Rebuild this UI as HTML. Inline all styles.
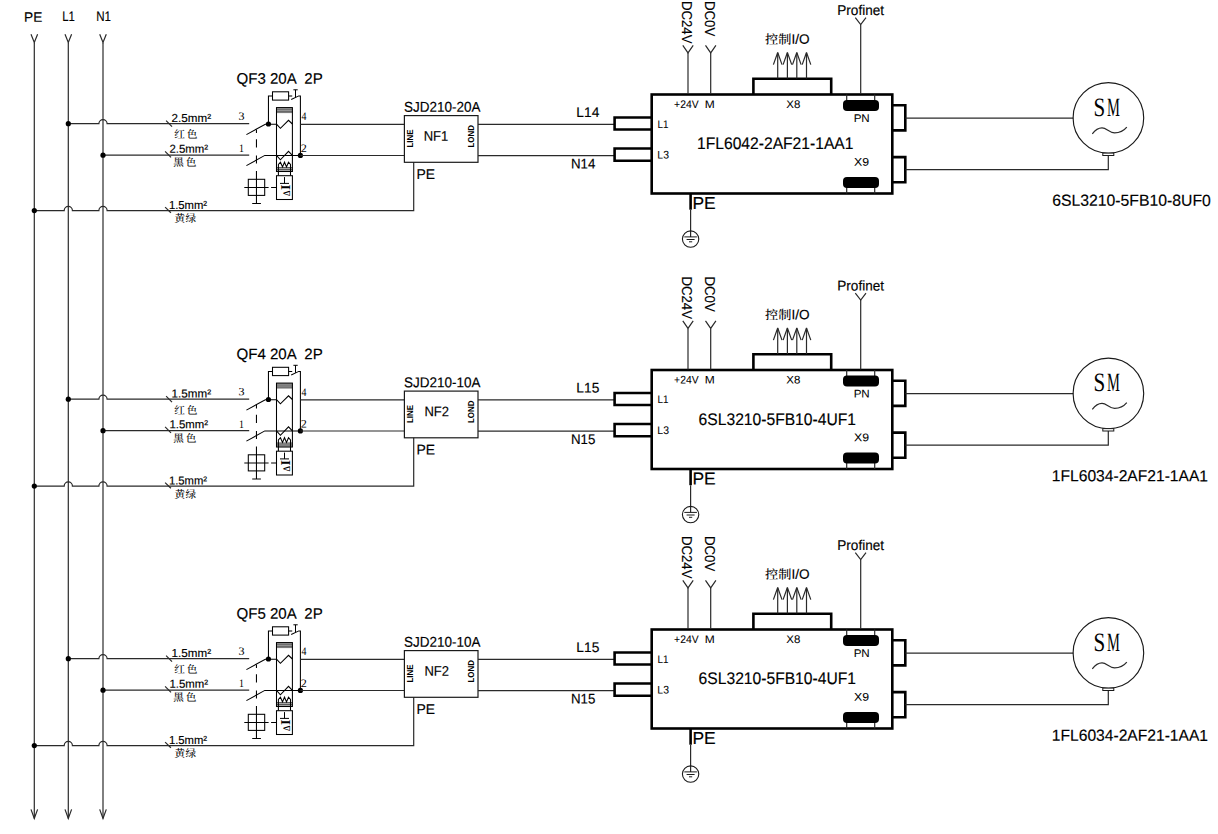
<!DOCTYPE html>
<html lang="zh-CN">
<head>
<meta charset="utf-8">
<title>Wiring diagram</title>
<style>
html,body{margin:0;padding:0;background:#fff;}
body{width:1218px;height:834px;overflow:hidden;}
svg{display:block;}
text{white-space:pre;text-rendering:geometricPrecision;stroke:#000;stroke-width:0.16px;stroke-linejoin:round;}
</style>
</head>
<body>
<svg width="1218" height="834" viewBox="0 0 1218 834">
<rect x="0" y="0" width="1218" height="834" fill="#fff"/>
<path d="M34.3,42.5 V818.4" stroke="#2a2a2a" stroke-width="1.2" fill="none"/>
<path d="M30.999999999999996,34.3 L34.3,42.5 L37.599999999999994,34.3" stroke="#2a2a2a" stroke-width="1.2" fill="none"/>
<path d="M30.999999999999996,809.4 L34.3,818.4 L37.599999999999994,809.4" stroke="#2a2a2a" stroke-width="1.2" fill="none"/>
<path d="M68.3,42.5 V818.4" stroke="#2a2a2a" stroke-width="1.2" fill="none"/>
<path d="M65.0,34.3 L68.3,42.5 L71.6,34.3" stroke="#2a2a2a" stroke-width="1.2" fill="none"/>
<path d="M65.0,809.4 L68.3,818.4 L71.6,809.4" stroke="#2a2a2a" stroke-width="1.2" fill="none"/>
<path d="M103.0,42.5 V818.4" stroke="#2a2a2a" stroke-width="1.2" fill="none"/>
<path d="M99.7,34.3 L103.0,42.5 L106.3,34.3" stroke="#2a2a2a" stroke-width="1.2" fill="none"/>
<path d="M99.7,809.4 L103.0,818.4 L106.3,809.4" stroke="#2a2a2a" stroke-width="1.2" fill="none"/>
<text transform="translate(24.08 21.80) rotate(0.03) scale(0.9989 1)" font-family='"Liberation Sans", "Noto Sans CJK SC", sans-serif' font-size="13.66" fill="#000"  xml:space="preserve">PE</text>
<text transform="translate(62.26 21.30) rotate(0.03) scale(0.8352 1)" font-family='"Liberation Sans", "Noto Sans CJK SC", sans-serif' font-size="13.66" fill="#000"  xml:space="preserve">L1</text>
<text transform="translate(96.25 21.30) rotate(0.03) scale(0.8483 1)" font-family='"Liberation Sans", "Noto Sans CJK SC", sans-serif' font-size="13.66" fill="#000"  xml:space="preserve">N1</text>
<g transform="translate(0 0)">
<path d="M68.3,123.7 H98.90 A4.1,4.1 0 0 1 107.10,123.7 H249.2" stroke="#2a2a2a" stroke-width="1.2" fill="none"/>
<path d="M103.0,155.2 H249.2" stroke="#2a2a2a" stroke-width="1.2" fill="none"/>
<path d="M34.3,210.55 H64.20 A4.1,4.1 0 0 1 72.40,210.55 H98.90 A4.1,4.1 0 0 1 107.10,210.55 H413.7 V162.3" stroke="#2a2a2a" stroke-width="1.2" fill="none"/>
<circle cx="68.30" cy="123.70" r="2.6" fill="#000"/>
<circle cx="103.00" cy="155.20" r="2.6" fill="#000"/>
<circle cx="34.30" cy="210.55" r="2.6" fill="#000"/>
<path d="M166.1,120.7 L172,126.7" stroke="#2a2a2a" stroke-width="1.2" fill="none"/>
<path d="M165.1,151.4 L171,157.4" stroke="#2a2a2a" stroke-width="1.2" fill="none"/>
<path d="M165.1,207.1 L170.9,212.7" stroke="#2a2a2a" stroke-width="1.2" fill="none"/>
<text transform="translate(171.62 121.90) rotate(0.03) scale(0.9999 1)" font-family='"Liberation Sans", "Noto Sans CJK SC", sans-serif' font-size="11.63" fill="#000"  xml:space="preserve">2.5mm²</text>
<text transform="translate(169.53 152.80) rotate(0.03) scale(0.9792 1)" font-family='"Liberation Sans", "Noto Sans CJK SC", sans-serif' font-size="11.63" fill="#000"  xml:space="preserve">2.5mm²</text>
<text transform="translate(168.94 209.00) rotate(0.03) scale(0.9686 1)" font-family='"Liberation Sans", "Noto Sans CJK SC", sans-serif' font-size="11.63" fill="#000"  xml:space="preserve">1.5mm²</text>
<text x="174.20" y="138.00" font-family='"Liberation Serif", "Noto Serif CJK SC", serif' font-size="10.6" fill="#000" textLength="23.20" lengthAdjust="spacing" font-weight="500" style="stroke:none">红色</text>
<text x="173.20" y="166.20" font-family='"Liberation Serif", "Noto Serif CJK SC", serif' font-size="10.6" fill="#000" textLength="23.20" lengthAdjust="spacing" font-weight="500" style="stroke:none">黑色</text>
<text x="174.60" y="222.20" font-family='"Liberation Serif", "Noto Serif CJK SC", serif' font-size="10.6" fill="#000" textLength="21.60" lengthAdjust="spacing" font-weight="500" style="stroke:none">黄绿</text>
<text transform="translate(238.52 119.80) rotate(0.03) scale(1.0860 1)" font-family='"Liberation Serif", "Noto Serif CJK SC", serif' font-size="11.15" fill="#000" style="stroke:none" xml:space="preserve">3</text>
<text transform="translate(239.03 152.00) rotate(0.03) scale(0.8682 1)" font-family='"Liberation Serif", "Noto Serif CJK SC", serif' font-size="11.45" fill="#000" style="stroke:none" xml:space="preserve">1</text>
<text transform="translate(301.41 120.10) rotate(0.03) scale(0.8642 1)" font-family='"Liberation Serif", "Noto Serif CJK SC", serif' font-size="11.45" fill="#000" style="stroke:none" xml:space="preserve">4</text>
<text transform="translate(300.76 152.00) rotate(0.03) scale(1.0675 1)" font-family='"Liberation Serif", "Noto Serif CJK SC", serif' font-size="11.45" fill="#000" style="stroke:none" xml:space="preserve">2</text>
<text transform="translate(236.49 83.70) rotate(0.03) scale(0.9874 1)" font-family='"Liberation Sans", "Noto Sans CJK SC", sans-serif' font-size="15.26" fill="#000"  xml:space="preserve">QF3 20A  2P</text>
<path d="M246.4,134.6 L265.3,124.2 H276.5" stroke="#000" stroke-width="1.05" fill="none"/>
<path d="M246.4,165.6 L264.8,155.4 H300.4" stroke="#000" stroke-width="1.05" fill="none"/>
<circle cx="268.45" cy="124.00" r="2.6" fill="#000"/>
<circle cx="300.40" cy="155.40" r="2.6" fill="#000"/>
<path d="M268.45,124 V96 H272.5" stroke="#000" stroke-width="1.05" fill="none"/>
<rect x="272.5" y="91.8" width="16.1" height="8.3" stroke="#000" stroke-width="1.05" fill="none"/>
<path d="M288.6,96 H292.2" stroke="#000" stroke-width="1.05" fill="none"/>
<path d="M291.2,99.5 L298.8,95.9 H300.4 V155.4" stroke="#000" stroke-width="1.05" fill="none"/>
<path d="M295.5,97.4 V89.8 M293.4,89.8 H297.7" stroke="#000" stroke-width="1" fill="none"/>
<rect x="276.5" y="107.6" width="15.9" height="5.0" fill="#9a9a9a"/>
<path d="M276.5,109.6 H292.4 M276.5,111.5 H292.4 M276.5,112.6 H292.4" stroke="#555" stroke-width="0.7" fill="none"/>
<rect x="276.5" y="167.2" width="15.9" height="4.3" fill="#a8a8a8"/>
<path d="M276.5,167.5 H292.4 M276.5,169.5 H292.4" stroke="#444" stroke-width="0.8" fill="none"/>
<rect x="276.5" y="107.6" width="15.9" height="63.9" stroke="#000" stroke-width="1.05" fill="none"/>
<path d="M276.5,124.2 L280.4,128.3 L288.5,120.3 L292.4,124.0" stroke="#000" stroke-width="1.05" fill="none"/>
<path d="M276.5,155.4 L280.4,159.8 L288.5,151.3 L292.4,155.4" stroke="#000" stroke-width="1.05" fill="none"/>
<path d="M278.4,175.6 V164.4 L280.45,162.2 L282.5,166.9 L284.5,162.2 L286.5,166.9 L288.5,162.2 L290.5,164.4 V175.6" stroke="#000" stroke-width="1.05" fill="none"/>
<rect x="276.5" y="175.7" width="15.9" height="23.8" stroke="#000" stroke-width="1.05" fill="none"/>
<path d="M284.5,177.1 V183.4 M280,183.4 H289" stroke="#000" stroke-width="1" fill="none"/>
<text transform="translate(289.9 200) rotate(-89.97)" font-family='"Liberation Serif", "Noto Serif CJK SC", serif' font-weight="bold" fill="#000" style="stroke:none"><tspan x="4.19" font-size="10.08" textLength="5.15" lengthAdjust="spacingAndGlyphs">Δ</tspan><tspan dx="0.59" font-size="13.44" textLength="5.44" lengthAdjust="spacingAndGlyphs">I</tspan></text>
<path d="M256.45,129.5 V133 M256.45,139.2 V147.5 M256.45,155.5 V163.5 M256.45,171 V203.4 M252.2,203.4 H260.9" stroke="#000" stroke-width="1.05" fill="none"/>
<rect x="248.3" y="179.3" width="16.4" height="16.1" stroke="#000" stroke-width="1.05" fill="none"/>
<path d="M244.3,187.4 H268.6 M271.1,187.4 H276.5" stroke="#000" stroke-width="1.05" fill="none"/>
<path d="M300.4,124.35 H404.4" stroke="#2a2a2a" stroke-width="1.2" fill="none"/>
<path d="M300.4,155.5 H404.4" stroke="#2a2a2a" stroke-width="1.2" fill="none"/>
<rect x="404.4" y="115.6" width="73.6" height="46.7" stroke="#1a1a1a" stroke-width="1.2" fill="none"/>
<text transform="translate(403.99 111.70) rotate(0.03) scale(0.9477 1)" font-family='"Liberation Sans", "Noto Sans CJK SC", sans-serif' font-size="14.24" fill="#000"  xml:space="preserve">SJD210-20A</text>
<text transform="translate(423.73 140.85) rotate(0.03) scale(0.9334 1)" font-family='"Liberation Sans", "Noto Sans CJK SC", sans-serif' font-size="13.95" fill="#000"  xml:space="preserve">NF1</text>
<text transform="translate(413.20 147.00) rotate(-89.97) translate(-0.53 0) scale(0.9028 1)" font-family='"Liberation Sans", "Noto Sans CJK SC", sans-serif' font-size="8.72" fill="#000" font-weight="bold" style="stroke:none" xml:space="preserve">LINE</text>
<text transform="translate(474.00 147.00) rotate(-89.97) translate(-0.53 0) scale(0.9050 1)" font-family='"Liberation Sans", "Noto Sans CJK SC", sans-serif' font-size="8.72" fill="#000" font-weight="bold" style="stroke:none" xml:space="preserve">LOND</text>
<text transform="translate(416.56 179.00) rotate(0.03) scale(0.9856 1)" font-family='"Liberation Sans", "Noto Sans CJK SC", sans-serif' font-size="14.10" fill="#000"  xml:space="preserve">PE</text>
<path d="M478,124.3 H614.6" stroke="#2a2a2a" stroke-width="1.2" fill="none"/>
<path d="M478,155.6 H614.6" stroke="#2a2a2a" stroke-width="1.2" fill="none"/>
<text transform="translate(576.37 117.00) rotate(0.03) scale(0.9849 1)" font-family='"Liberation Sans", "Noto Sans CJK SC", sans-serif' font-size="13.95" fill="#000"  xml:space="preserve">L14</text>
<text transform="translate(570.91 168.60) rotate(0.03) scale(0.9524 1)" font-family='"Liberation Sans", "Noto Sans CJK SC", sans-serif' font-size="13.95" fill="#000"  xml:space="preserve">N14</text>
<rect x="651.7" y="94.5" width="240.6" height="99.0" stroke="#000" stroke-width="2.6" fill="none" stroke-linejoin="miter"/>
<path d="M651.7,117.5 H614.6 V129.5 H651.7" stroke="#000" stroke-width="2.6" fill="none" stroke-linejoin="miter"/>
<path d="M651.7,148.5 H614.6 V160.7 H651.7" stroke="#000" stroke-width="2.6" fill="none" stroke-linejoin="miter"/>
<path d="M753.4,94.5 V78.7 H831.2 V94.5" stroke="#000" stroke-width="2.6" fill="none" stroke-linejoin="miter"/>
<path d="M892.3,105.2 H905.3 V130.4 H892.3" stroke="#000" stroke-width="2.6" fill="none" stroke-linejoin="miter"/>
<path d="M892.3,157.1 H905.3 V182.3 H892.3" stroke="#000" stroke-width="2.6" fill="none" stroke-linejoin="miter"/>
<path d="M846.7,94.5 V101 M874.7,94.5 V101 M846.7,187 V193.5 M874.7,187 V193.5" stroke="#2a2a2a" stroke-width="1.2" fill="none"/>
<rect x="843" y="100" width="36" height="11" rx="4" ry="4" fill="#000"/>
<rect x="843" y="177.1" width="36" height="10.9" rx="4" ry="4" fill="#000"/>
<path d="M688.0,52.9 V94" stroke="#2a2a2a" stroke-width="1.2" fill="none"/>
<path d="M682.8,45.3 L688.0,52.9 L693.2,45.3" stroke="#2a2a2a" stroke-width="1.2" fill="none"/>
<path d="M710.7,52.9 V94" stroke="#2a2a2a" stroke-width="1.2" fill="none"/>
<path d="M705.5,45.3 L710.7,52.9 L715.9000000000001,45.3" stroke="#2a2a2a" stroke-width="1.2" fill="none"/>
<text transform="translate(682.10 0.00) rotate(90.03) translate(0.92 0) scale(0.9264 1)" font-family='"Liberation Sans", "Noto Sans CJK SC", sans-serif' font-size="14.24" fill="#000"  xml:space="preserve">DC24V</text>
<text transform="translate(704.80 0.00) rotate(90.03) translate(0.91 0) scale(0.9302 1)" font-family='"Liberation Sans", "Noto Sans CJK SC", sans-serif' font-size="14.24" fill="#000"  xml:space="preserve">DC0V</text>
<path d="M777.7,52.8 V78.5" stroke="#2a2a2a" stroke-width="1.2" fill="none"/>
<path d="M773.4000000000001,64.6 L777.7,52.5 L782.0,64.6" stroke="#2a2a2a" stroke-width="1.2" fill="none" stroke-linejoin="bevel"/>
<path d="M787.4,52.8 V78.5" stroke="#2a2a2a" stroke-width="1.2" fill="none"/>
<path d="M783.1,64.6 L787.4,52.5 L791.6999999999999,64.6" stroke="#2a2a2a" stroke-width="1.2" fill="none" stroke-linejoin="bevel"/>
<path d="M796.8,52.8 V78.5" stroke="#2a2a2a" stroke-width="1.2" fill="none"/>
<path d="M792.5,64.6 L796.8,52.5 L801.0999999999999,64.6" stroke="#2a2a2a" stroke-width="1.2" fill="none" stroke-linejoin="bevel"/>
<path d="M806.5,52.8 V78.5" stroke="#2a2a2a" stroke-width="1.2" fill="none"/>
<path d="M802.2,64.6 L806.5,52.5 L810.8,64.6" stroke="#2a2a2a" stroke-width="1.2" fill="none" stroke-linejoin="bevel"/>
<text transform="translate(765.0 43.8) rotate(0.03)" font-size="12.6" fill="#000"><tspan font-family='"Liberation Serif", "Noto Serif CJK SC", serif' font-weight="500" textLength="26.4" lengthAdjust="spacingAndGlyphs" style="stroke:none">控制</tspan><tspan font-family='"Liberation Sans", "Noto Sans CJK SC", sans-serif' font-size="13.6">I/O</tspan></text>
<path d="M860.7,24.5 V94" stroke="#2a2a2a" stroke-width="1.2" fill="none"/>
<path d="M855.3,17.6 L860.7,24.5 L866,17.6" stroke="#2a2a2a" stroke-width="1.2" fill="none"/>
<text transform="translate(837.29 14.90) rotate(0.03) scale(0.9614 1)" font-family='"Liberation Sans", "Noto Sans CJK SC", sans-serif' font-size="14.10" fill="#000"  xml:space="preserve">Profinet</text>
<text transform="translate(674.09 107.90) rotate(0.03) scale(0.9405 1)" font-family='"Liberation Sans", "Noto Sans CJK SC", sans-serif' font-size="11.05" fill="#000" style="stroke-width:0.06px" xml:space="preserve">+24V</text>
<text transform="translate(704.72 107.90) rotate(0.03) scale(1.0826 1)" font-family='"Liberation Sans", "Noto Sans CJK SC", sans-serif' font-size="11.05" fill="#000" style="stroke-width:0.06px" xml:space="preserve">M</text>
<text transform="translate(786.24 107.90) rotate(0.03) scale(1.0404 1)" font-family='"Liberation Sans", "Noto Sans CJK SC", sans-serif' font-size="11.05" fill="#000" style="stroke-width:0.06px" xml:space="preserve">X8</text>
<text transform="translate(657.39 127.90) rotate(0.03) scale(0.8947 1)" font-family='"Liberation Sans", "Noto Sans CJK SC", sans-serif' font-size="11.05" fill="#000" style="stroke-width:0.06px" xml:space="preserve">L1</text>
<text transform="translate(657.34 158.50) rotate(0.03) scale(0.9453 1)" font-family='"Liberation Sans", "Noto Sans CJK SC", sans-serif' font-size="11.05" fill="#000" style="stroke-width:0.06px" xml:space="preserve">L3</text>
<text transform="translate(853.65 121.90) rotate(0.03) scale(1.0352 1)" font-family='"Liberation Sans", "Noto Sans CJK SC", sans-serif' font-size="11.19" fill="#000" style="stroke-width:0.06px" xml:space="preserve">PN</text>
<text transform="translate(854.02 165.80) rotate(0.03) scale(1.1001 1)" font-family='"Liberation Sans", "Noto Sans CJK SC", sans-serif' font-size="11.19" fill="#000" style="stroke-width:0.06px" xml:space="preserve">X9</text>
<text transform="translate(697.01 149.00) rotate(0.03) scale(0.9273 1)" font-family='"Liberation Sans", "Noto Sans CJK SC", sans-serif' font-size="16.86" fill="#000"  xml:space="preserve">1FL6042-2AF21-1AA1</text>
<path d="M690.6,193.5 V209.7" stroke="#000" stroke-width="2.6" fill="none" stroke-linejoin="miter"/>
<path d="M690.6,209.7 V237" stroke="#2a2a2a" stroke-width="1.2" fill="none"/>
<circle cx="690.6" cy="239.1" r="8.2" stroke="#1a1a1a" stroke-width="1.1" fill="none"/>
<path d="M684.3,236.9 H696.9 M686.6,239.5 H694.6 M689,241.8 H692.2" stroke="#1a1a1a" stroke-width="1" fill="none"/>
<text transform="translate(692.47 209.00) rotate(0.03) scale(1.0090 1)" font-family='"Liberation Sans", "Noto Sans CJK SC", sans-serif' font-size="17.30" fill="#000"  xml:space="preserve">PE</text>
<path d="M905.4,118.2 H1073.4" stroke="#2a2a2a" stroke-width="1.2" fill="none"/>
<path d="M905.4,169.6 H1108.3 V155.5" stroke="#2a2a2a" stroke-width="1.2" fill="none"/>
<circle cx="1108.4" cy="117.9" r="35.3" stroke="#1a1a1a" stroke-width="1.15" fill="none"/>
<rect x="1102.8" y="153.1" width="11.0" height="2.4" stroke="#1a1a1a" stroke-width="1" fill="#fff"/>
<text transform="translate(1093.5 115.8) rotate(0.03)" font-family='"Liberation Serif", "Noto Serif CJK SC", serif' font-size="26.5" fill="#000" style="stroke:none"><tspan textLength="11.7" lengthAdjust="spacingAndGlyphs">S</tspan><tspan dx="1.7" textLength="12.9" lengthAdjust="spacingAndGlyphs">M</tspan></text>
<path d="M1092.3,133.8 C1095.5,129.5 1098.5,127.8 1102,127.8 C1106.5,127.8 1109.5,132.8 1114.6,132.8 C1119.5,132.8 1124,130.5 1126.8,127.1" stroke="#2a2a2a" stroke-width="1.2" fill="none"/>
<text transform="translate(1052.20 205.80) rotate(0.03) scale(0.9866 1)" font-family='"Liberation Sans", "Noto Sans CJK SC", sans-serif' font-size="15.99" fill="#000"  xml:space="preserve">6SL3210-5FB10-8UF0</text>
</g>
<g transform="translate(0 275.5)">
<path d="M68.3,123.7 H98.90 A4.1,4.1 0 0 1 107.10,123.7 H249.2" stroke="#2a2a2a" stroke-width="1.2" fill="none"/>
<path d="M103.0,155.2 H249.2" stroke="#2a2a2a" stroke-width="1.2" fill="none"/>
<path d="M34.3,210.55 H64.20 A4.1,4.1 0 0 1 72.40,210.55 H98.90 A4.1,4.1 0 0 1 107.10,210.55 H413.7 V162.3" stroke="#2a2a2a" stroke-width="1.2" fill="none"/>
<circle cx="68.30" cy="123.70" r="2.6" fill="#000"/>
<circle cx="103.00" cy="155.20" r="2.6" fill="#000"/>
<circle cx="34.30" cy="210.55" r="2.6" fill="#000"/>
<path d="M166.1,120.7 L172,126.7" stroke="#2a2a2a" stroke-width="1.2" fill="none"/>
<path d="M165.1,151.4 L171,157.4" stroke="#2a2a2a" stroke-width="1.2" fill="none"/>
<path d="M165.1,207.1 L170.9,212.7" stroke="#2a2a2a" stroke-width="1.2" fill="none"/>
<text transform="translate(171.62 121.90) rotate(0.03) scale(0.9999 1)" font-family='"Liberation Sans", "Noto Sans CJK SC", sans-serif' font-size="11.63" fill="#000"  xml:space="preserve">1.5mm²</text>
<text transform="translate(169.53 152.80) rotate(0.03) scale(0.9792 1)" font-family='"Liberation Sans", "Noto Sans CJK SC", sans-serif' font-size="11.63" fill="#000"  xml:space="preserve">1.5mm²</text>
<text transform="translate(168.94 209.00) rotate(0.03) scale(0.9686 1)" font-family='"Liberation Sans", "Noto Sans CJK SC", sans-serif' font-size="11.63" fill="#000"  xml:space="preserve">1.5mm²</text>
<text x="174.20" y="138.00" font-family='"Liberation Serif", "Noto Serif CJK SC", serif' font-size="10.6" fill="#000" textLength="23.20" lengthAdjust="spacing" font-weight="500" style="stroke:none">红色</text>
<text x="173.20" y="166.20" font-family='"Liberation Serif", "Noto Serif CJK SC", serif' font-size="10.6" fill="#000" textLength="23.20" lengthAdjust="spacing" font-weight="500" style="stroke:none">黑色</text>
<text x="174.60" y="222.20" font-family='"Liberation Serif", "Noto Serif CJK SC", serif' font-size="10.6" fill="#000" textLength="21.60" lengthAdjust="spacing" font-weight="500" style="stroke:none">黄绿</text>
<text transform="translate(238.52 119.80) rotate(0.03) scale(1.0860 1)" font-family='"Liberation Serif", "Noto Serif CJK SC", serif' font-size="11.15" fill="#000" style="stroke:none" xml:space="preserve">3</text>
<text transform="translate(239.03 152.00) rotate(0.03) scale(0.8682 1)" font-family='"Liberation Serif", "Noto Serif CJK SC", serif' font-size="11.45" fill="#000" style="stroke:none" xml:space="preserve">1</text>
<text transform="translate(301.41 120.10) rotate(0.03) scale(0.8642 1)" font-family='"Liberation Serif", "Noto Serif CJK SC", serif' font-size="11.45" fill="#000" style="stroke:none" xml:space="preserve">4</text>
<text transform="translate(300.76 152.00) rotate(0.03) scale(1.0675 1)" font-family='"Liberation Serif", "Noto Serif CJK SC", serif' font-size="11.45" fill="#000" style="stroke:none" xml:space="preserve">2</text>
<text transform="translate(236.49 83.70) rotate(0.03) scale(0.9874 1)" font-family='"Liberation Sans", "Noto Sans CJK SC", sans-serif' font-size="15.26" fill="#000"  xml:space="preserve">QF4 20A  2P</text>
<path d="M246.4,134.6 L265.3,124.2 H276.5" stroke="#000" stroke-width="1.05" fill="none"/>
<path d="M246.4,165.6 L264.8,155.4 H300.4" stroke="#000" stroke-width="1.05" fill="none"/>
<circle cx="268.45" cy="124.00" r="2.6" fill="#000"/>
<circle cx="300.40" cy="155.40" r="2.6" fill="#000"/>
<path d="M268.45,124 V96 H272.5" stroke="#000" stroke-width="1.05" fill="none"/>
<rect x="272.5" y="91.8" width="16.1" height="8.3" stroke="#000" stroke-width="1.05" fill="none"/>
<path d="M288.6,96 H292.2" stroke="#000" stroke-width="1.05" fill="none"/>
<path d="M291.2,99.5 L298.8,95.9 H300.4 V155.4" stroke="#000" stroke-width="1.05" fill="none"/>
<path d="M295.5,97.4 V89.8 M293.4,89.8 H297.7" stroke="#000" stroke-width="1" fill="none"/>
<rect x="276.5" y="107.6" width="15.9" height="5.0" fill="#9a9a9a"/>
<path d="M276.5,109.6 H292.4 M276.5,111.5 H292.4 M276.5,112.6 H292.4" stroke="#555" stroke-width="0.7" fill="none"/>
<rect x="276.5" y="167.2" width="15.9" height="4.3" fill="#a8a8a8"/>
<path d="M276.5,167.5 H292.4 M276.5,169.5 H292.4" stroke="#444" stroke-width="0.8" fill="none"/>
<rect x="276.5" y="107.6" width="15.9" height="63.9" stroke="#000" stroke-width="1.05" fill="none"/>
<path d="M276.5,124.2 L280.4,128.3 L288.5,120.3 L292.4,124.0" stroke="#000" stroke-width="1.05" fill="none"/>
<path d="M276.5,155.4 L280.4,159.8 L288.5,151.3 L292.4,155.4" stroke="#000" stroke-width="1.05" fill="none"/>
<path d="M278.4,175.6 V164.4 L280.45,162.2 L282.5,166.9 L284.5,162.2 L286.5,166.9 L288.5,162.2 L290.5,164.4 V175.6" stroke="#000" stroke-width="1.05" fill="none"/>
<rect x="276.5" y="175.7" width="15.9" height="23.8" stroke="#000" stroke-width="1.05" fill="none"/>
<path d="M284.5,177.1 V183.4 M280,183.4 H289" stroke="#000" stroke-width="1" fill="none"/>
<text transform="translate(289.9 200) rotate(-89.97)" font-family='"Liberation Serif", "Noto Serif CJK SC", serif' font-weight="bold" fill="#000" style="stroke:none"><tspan x="4.19" font-size="10.08" textLength="5.15" lengthAdjust="spacingAndGlyphs">Δ</tspan><tspan dx="0.59" font-size="13.44" textLength="5.44" lengthAdjust="spacingAndGlyphs">I</tspan></text>
<path d="M256.45,129.5 V133 M256.45,139.2 V147.5 M256.45,155.5 V163.5 M256.45,171 V203.4 M252.2,203.4 H260.9" stroke="#000" stroke-width="1.05" fill="none"/>
<rect x="248.3" y="179.3" width="16.4" height="16.1" stroke="#000" stroke-width="1.05" fill="none"/>
<path d="M244.3,187.4 H268.6 M271.1,187.4 H276.5" stroke="#000" stroke-width="1.05" fill="none"/>
<path d="M300.4,124.35 H404.4" stroke="#2a2a2a" stroke-width="1.2" fill="none"/>
<path d="M300.4,155.5 H404.4" stroke="#2a2a2a" stroke-width="1.2" fill="none"/>
<rect x="404.4" y="115.6" width="73.6" height="46.7" stroke="#1a1a1a" stroke-width="1.2" fill="none"/>
<text transform="translate(403.99 111.70) rotate(0.03) scale(0.9477 1)" font-family='"Liberation Sans", "Noto Sans CJK SC", sans-serif' font-size="14.24" fill="#000"  xml:space="preserve">SJD210-10A</text>
<text transform="translate(424.43 140.85) rotate(0.03) scale(0.9334 1)" font-family='"Liberation Sans", "Noto Sans CJK SC", sans-serif' font-size="13.95" fill="#000"  xml:space="preserve">NF2</text>
<text transform="translate(413.20 147.00) rotate(-89.97) translate(-0.53 0) scale(0.9028 1)" font-family='"Liberation Sans", "Noto Sans CJK SC", sans-serif' font-size="8.72" fill="#000" font-weight="bold" style="stroke:none" xml:space="preserve">LINE</text>
<text transform="translate(474.00 147.00) rotate(-89.97) translate(-0.53 0) scale(0.9050 1)" font-family='"Liberation Sans", "Noto Sans CJK SC", sans-serif' font-size="8.72" fill="#000" font-weight="bold" style="stroke:none" xml:space="preserve">LOND</text>
<text transform="translate(416.56 179.00) rotate(0.03) scale(0.9856 1)" font-family='"Liberation Sans", "Noto Sans CJK SC", sans-serif' font-size="14.10" fill="#000"  xml:space="preserve">PE</text>
<path d="M478,124.3 H614.6" stroke="#2a2a2a" stroke-width="1.2" fill="none"/>
<path d="M478,155.6 H614.6" stroke="#2a2a2a" stroke-width="1.2" fill="none"/>
<text transform="translate(576.37 117.00) rotate(0.03) scale(0.9849 1)" font-family='"Liberation Sans", "Noto Sans CJK SC", sans-serif' font-size="13.95" fill="#000"  xml:space="preserve">L15</text>
<text transform="translate(570.91 168.60) rotate(0.03) scale(0.9524 1)" font-family='"Liberation Sans", "Noto Sans CJK SC", sans-serif' font-size="13.95" fill="#000"  xml:space="preserve">N15</text>
<rect x="651.7" y="94.5" width="240.6" height="99.0" stroke="#000" stroke-width="2.6" fill="none" stroke-linejoin="miter"/>
<path d="M651.7,117.5 H614.6 V129.5 H651.7" stroke="#000" stroke-width="2.6" fill="none" stroke-linejoin="miter"/>
<path d="M651.7,148.5 H614.6 V160.7 H651.7" stroke="#000" stroke-width="2.6" fill="none" stroke-linejoin="miter"/>
<path d="M753.4,94.5 V78.7 H831.2 V94.5" stroke="#000" stroke-width="2.6" fill="none" stroke-linejoin="miter"/>
<path d="M892.3,105.2 H905.3 V130.4 H892.3" stroke="#000" stroke-width="2.6" fill="none" stroke-linejoin="miter"/>
<path d="M892.3,157.1 H905.3 V182.3 H892.3" stroke="#000" stroke-width="2.6" fill="none" stroke-linejoin="miter"/>
<path d="M846.7,94.5 V101 M874.7,94.5 V101 M846.7,187 V193.5 M874.7,187 V193.5" stroke="#2a2a2a" stroke-width="1.2" fill="none"/>
<rect x="843" y="100" width="36" height="11" rx="4" ry="4" fill="#000"/>
<rect x="843" y="177.1" width="36" height="10.9" rx="4" ry="4" fill="#000"/>
<path d="M688.0,52.9 V94" stroke="#2a2a2a" stroke-width="1.2" fill="none"/>
<path d="M682.8,45.3 L688.0,52.9 L693.2,45.3" stroke="#2a2a2a" stroke-width="1.2" fill="none"/>
<path d="M710.7,52.9 V94" stroke="#2a2a2a" stroke-width="1.2" fill="none"/>
<path d="M705.5,45.3 L710.7,52.9 L715.9000000000001,45.3" stroke="#2a2a2a" stroke-width="1.2" fill="none"/>
<text transform="translate(682.10 0.00) rotate(90.03) translate(0.92 0) scale(0.9264 1)" font-family='"Liberation Sans", "Noto Sans CJK SC", sans-serif' font-size="14.24" fill="#000"  xml:space="preserve">DC24V</text>
<text transform="translate(704.80 0.00) rotate(90.03) translate(0.91 0) scale(0.9302 1)" font-family='"Liberation Sans", "Noto Sans CJK SC", sans-serif' font-size="14.24" fill="#000"  xml:space="preserve">DC0V</text>
<path d="M777.7,52.8 V78.5" stroke="#2a2a2a" stroke-width="1.2" fill="none"/>
<path d="M773.4000000000001,64.6 L777.7,52.5 L782.0,64.6" stroke="#2a2a2a" stroke-width="1.2" fill="none" stroke-linejoin="bevel"/>
<path d="M787.4,52.8 V78.5" stroke="#2a2a2a" stroke-width="1.2" fill="none"/>
<path d="M783.1,64.6 L787.4,52.5 L791.6999999999999,64.6" stroke="#2a2a2a" stroke-width="1.2" fill="none" stroke-linejoin="bevel"/>
<path d="M796.8,52.8 V78.5" stroke="#2a2a2a" stroke-width="1.2" fill="none"/>
<path d="M792.5,64.6 L796.8,52.5 L801.0999999999999,64.6" stroke="#2a2a2a" stroke-width="1.2" fill="none" stroke-linejoin="bevel"/>
<path d="M806.5,52.8 V78.5" stroke="#2a2a2a" stroke-width="1.2" fill="none"/>
<path d="M802.2,64.6 L806.5,52.5 L810.8,64.6" stroke="#2a2a2a" stroke-width="1.2" fill="none" stroke-linejoin="bevel"/>
<text transform="translate(765.0 43.8) rotate(0.03)" font-size="12.6" fill="#000"><tspan font-family='"Liberation Serif", "Noto Serif CJK SC", serif' font-weight="500" textLength="26.4" lengthAdjust="spacingAndGlyphs" style="stroke:none">控制</tspan><tspan font-family='"Liberation Sans", "Noto Sans CJK SC", sans-serif' font-size="13.6">I/O</tspan></text>
<path d="M860.7,24.5 V94" stroke="#2a2a2a" stroke-width="1.2" fill="none"/>
<path d="M855.3,17.6 L860.7,24.5 L866,17.6" stroke="#2a2a2a" stroke-width="1.2" fill="none"/>
<text transform="translate(837.29 14.90) rotate(0.03) scale(0.9614 1)" font-family='"Liberation Sans", "Noto Sans CJK SC", sans-serif' font-size="14.10" fill="#000"  xml:space="preserve">Profinet</text>
<text transform="translate(674.09 107.90) rotate(0.03) scale(0.9405 1)" font-family='"Liberation Sans", "Noto Sans CJK SC", sans-serif' font-size="11.05" fill="#000" style="stroke-width:0.06px" xml:space="preserve">+24V</text>
<text transform="translate(704.72 107.90) rotate(0.03) scale(1.0826 1)" font-family='"Liberation Sans", "Noto Sans CJK SC", sans-serif' font-size="11.05" fill="#000" style="stroke-width:0.06px" xml:space="preserve">M</text>
<text transform="translate(786.24 107.90) rotate(0.03) scale(1.0404 1)" font-family='"Liberation Sans", "Noto Sans CJK SC", sans-serif' font-size="11.05" fill="#000" style="stroke-width:0.06px" xml:space="preserve">X8</text>
<text transform="translate(657.39 127.90) rotate(0.03) scale(0.8947 1)" font-family='"Liberation Sans", "Noto Sans CJK SC", sans-serif' font-size="11.05" fill="#000" style="stroke-width:0.06px" xml:space="preserve">L1</text>
<text transform="translate(657.34 158.50) rotate(0.03) scale(0.9453 1)" font-family='"Liberation Sans", "Noto Sans CJK SC", sans-serif' font-size="11.05" fill="#000" style="stroke-width:0.06px" xml:space="preserve">L3</text>
<text transform="translate(853.65 121.90) rotate(0.03) scale(1.0352 1)" font-family='"Liberation Sans", "Noto Sans CJK SC", sans-serif' font-size="11.19" fill="#000" style="stroke-width:0.06px" xml:space="preserve">PN</text>
<text transform="translate(854.02 165.80) rotate(0.03) scale(1.1001 1)" font-family='"Liberation Sans", "Noto Sans CJK SC", sans-serif' font-size="11.19" fill="#000" style="stroke-width:0.06px" xml:space="preserve">X9</text>
<text transform="translate(698.61 149.00) rotate(0.03) scale(0.9276 1)" font-family='"Liberation Sans", "Noto Sans CJK SC", sans-serif' font-size="16.86" fill="#000"  xml:space="preserve">6SL3210-5FB10-4UF1</text>
<path d="M690.6,193.5 V209.7" stroke="#000" stroke-width="2.6" fill="none" stroke-linejoin="miter"/>
<path d="M690.6,209.7 V237" stroke="#2a2a2a" stroke-width="1.2" fill="none"/>
<circle cx="690.6" cy="239.1" r="8.2" stroke="#1a1a1a" stroke-width="1.1" fill="none"/>
<path d="M684.3,236.9 H696.9 M686.6,239.5 H694.6 M689,241.8 H692.2" stroke="#1a1a1a" stroke-width="1" fill="none"/>
<text transform="translate(692.47 209.00) rotate(0.03) scale(1.0090 1)" font-family='"Liberation Sans", "Noto Sans CJK SC", sans-serif' font-size="17.30" fill="#000"  xml:space="preserve">PE</text>
<path d="M905.4,118.2 H1073.4" stroke="#2a2a2a" stroke-width="1.2" fill="none"/>
<path d="M905.4,169.6 H1108.3 V155.5" stroke="#2a2a2a" stroke-width="1.2" fill="none"/>
<circle cx="1108.4" cy="117.9" r="35.3" stroke="#1a1a1a" stroke-width="1.15" fill="none"/>
<rect x="1102.8" y="153.1" width="11.0" height="2.4" stroke="#1a1a1a" stroke-width="1" fill="#fff"/>
<text transform="translate(1093.5 115.8) rotate(0.03)" font-family='"Liberation Serif", "Noto Serif CJK SC", serif' font-size="26.5" fill="#000" style="stroke:none"><tspan textLength="11.7" lengthAdjust="spacingAndGlyphs">S</tspan><tspan dx="1.7" textLength="12.9" lengthAdjust="spacingAndGlyphs">M</tspan></text>
<path d="M1092.3,133.8 C1095.5,129.5 1098.5,127.8 1102,127.8 C1106.5,127.8 1109.5,132.8 1114.6,132.8 C1119.5,132.8 1124,130.5 1126.8,127.1" stroke="#2a2a2a" stroke-width="1.2" fill="none"/>
<text transform="translate(1051.81 205.80) rotate(0.03) scale(0.9767 1)" font-family='"Liberation Sans", "Noto Sans CJK SC", sans-serif' font-size="15.99" fill="#000"  xml:space="preserve">1FL6034-2AF21-1AA1</text>
</g>
<g transform="translate(0 535.0)">
<path d="M68.3,123.7 H98.90 A4.1,4.1 0 0 1 107.10,123.7 H249.2" stroke="#2a2a2a" stroke-width="1.2" fill="none"/>
<path d="M103.0,155.2 H249.2" stroke="#2a2a2a" stroke-width="1.2" fill="none"/>
<path d="M34.3,210.55 H64.20 A4.1,4.1 0 0 1 72.40,210.55 H98.90 A4.1,4.1 0 0 1 107.10,210.55 H413.7 V162.3" stroke="#2a2a2a" stroke-width="1.2" fill="none"/>
<circle cx="68.30" cy="123.70" r="2.6" fill="#000"/>
<circle cx="103.00" cy="155.20" r="2.6" fill="#000"/>
<circle cx="34.30" cy="210.55" r="2.6" fill="#000"/>
<path d="M166.1,120.7 L172,126.7" stroke="#2a2a2a" stroke-width="1.2" fill="none"/>
<path d="M165.1,151.4 L171,157.4" stroke="#2a2a2a" stroke-width="1.2" fill="none"/>
<path d="M165.1,207.1 L170.9,212.7" stroke="#2a2a2a" stroke-width="1.2" fill="none"/>
<text transform="translate(171.62 121.90) rotate(0.03) scale(0.9999 1)" font-family='"Liberation Sans", "Noto Sans CJK SC", sans-serif' font-size="11.63" fill="#000"  xml:space="preserve">1.5mm²</text>
<text transform="translate(169.53 152.80) rotate(0.03) scale(0.9792 1)" font-family='"Liberation Sans", "Noto Sans CJK SC", sans-serif' font-size="11.63" fill="#000"  xml:space="preserve">1.5mm²</text>
<text transform="translate(168.94 209.00) rotate(0.03) scale(0.9686 1)" font-family='"Liberation Sans", "Noto Sans CJK SC", sans-serif' font-size="11.63" fill="#000"  xml:space="preserve">1.5mm²</text>
<text x="174.20" y="138.00" font-family='"Liberation Serif", "Noto Serif CJK SC", serif' font-size="10.6" fill="#000" textLength="23.20" lengthAdjust="spacing" font-weight="500" style="stroke:none">红色</text>
<text x="173.20" y="166.20" font-family='"Liberation Serif", "Noto Serif CJK SC", serif' font-size="10.6" fill="#000" textLength="23.20" lengthAdjust="spacing" font-weight="500" style="stroke:none">黑色</text>
<text x="174.60" y="222.20" font-family='"Liberation Serif", "Noto Serif CJK SC", serif' font-size="10.6" fill="#000" textLength="21.60" lengthAdjust="spacing" font-weight="500" style="stroke:none">黄绿</text>
<text transform="translate(238.52 119.80) rotate(0.03) scale(1.0860 1)" font-family='"Liberation Serif", "Noto Serif CJK SC", serif' font-size="11.15" fill="#000" style="stroke:none" xml:space="preserve">3</text>
<text transform="translate(239.03 152.00) rotate(0.03) scale(0.8682 1)" font-family='"Liberation Serif", "Noto Serif CJK SC", serif' font-size="11.45" fill="#000" style="stroke:none" xml:space="preserve">1</text>
<text transform="translate(301.41 120.10) rotate(0.03) scale(0.8642 1)" font-family='"Liberation Serif", "Noto Serif CJK SC", serif' font-size="11.45" fill="#000" style="stroke:none" xml:space="preserve">4</text>
<text transform="translate(300.76 152.00) rotate(0.03) scale(1.0675 1)" font-family='"Liberation Serif", "Noto Serif CJK SC", serif' font-size="11.45" fill="#000" style="stroke:none" xml:space="preserve">2</text>
<text transform="translate(236.49 83.70) rotate(0.03) scale(0.9874 1)" font-family='"Liberation Sans", "Noto Sans CJK SC", sans-serif' font-size="15.26" fill="#000"  xml:space="preserve">QF5 20A  2P</text>
<path d="M246.4,134.6 L265.3,124.2 H276.5" stroke="#000" stroke-width="1.05" fill="none"/>
<path d="M246.4,165.6 L264.8,155.4 H300.4" stroke="#000" stroke-width="1.05" fill="none"/>
<circle cx="268.45" cy="124.00" r="2.6" fill="#000"/>
<circle cx="300.40" cy="155.40" r="2.6" fill="#000"/>
<path d="M268.45,124 V96 H272.5" stroke="#000" stroke-width="1.05" fill="none"/>
<rect x="272.5" y="91.8" width="16.1" height="8.3" stroke="#000" stroke-width="1.05" fill="none"/>
<path d="M288.6,96 H292.2" stroke="#000" stroke-width="1.05" fill="none"/>
<path d="M291.2,99.5 L298.8,95.9 H300.4 V155.4" stroke="#000" stroke-width="1.05" fill="none"/>
<path d="M295.5,97.4 V89.8 M293.4,89.8 H297.7" stroke="#000" stroke-width="1" fill="none"/>
<rect x="276.5" y="107.6" width="15.9" height="5.0" fill="#9a9a9a"/>
<path d="M276.5,109.6 H292.4 M276.5,111.5 H292.4 M276.5,112.6 H292.4" stroke="#555" stroke-width="0.7" fill="none"/>
<rect x="276.5" y="167.2" width="15.9" height="4.3" fill="#a8a8a8"/>
<path d="M276.5,167.5 H292.4 M276.5,169.5 H292.4" stroke="#444" stroke-width="0.8" fill="none"/>
<rect x="276.5" y="107.6" width="15.9" height="63.9" stroke="#000" stroke-width="1.05" fill="none"/>
<path d="M276.5,124.2 L280.4,128.3 L288.5,120.3 L292.4,124.0" stroke="#000" stroke-width="1.05" fill="none"/>
<path d="M276.5,155.4 L280.4,159.8 L288.5,151.3 L292.4,155.4" stroke="#000" stroke-width="1.05" fill="none"/>
<path d="M278.4,175.6 V164.4 L280.45,162.2 L282.5,166.9 L284.5,162.2 L286.5,166.9 L288.5,162.2 L290.5,164.4 V175.6" stroke="#000" stroke-width="1.05" fill="none"/>
<rect x="276.5" y="175.7" width="15.9" height="23.8" stroke="#000" stroke-width="1.05" fill="none"/>
<path d="M284.5,177.1 V183.4 M280,183.4 H289" stroke="#000" stroke-width="1" fill="none"/>
<text transform="translate(289.9 200) rotate(-89.97)" font-family='"Liberation Serif", "Noto Serif CJK SC", serif' font-weight="bold" fill="#000" style="stroke:none"><tspan x="4.19" font-size="10.08" textLength="5.15" lengthAdjust="spacingAndGlyphs">Δ</tspan><tspan dx="0.59" font-size="13.44" textLength="5.44" lengthAdjust="spacingAndGlyphs">I</tspan></text>
<path d="M256.45,129.5 V133 M256.45,139.2 V147.5 M256.45,155.5 V163.5 M256.45,171 V203.4 M252.2,203.4 H260.9" stroke="#000" stroke-width="1.05" fill="none"/>
<rect x="248.3" y="179.3" width="16.4" height="16.1" stroke="#000" stroke-width="1.05" fill="none"/>
<path d="M244.3,187.4 H268.6 M271.1,187.4 H276.5" stroke="#000" stroke-width="1.05" fill="none"/>
<path d="M300.4,124.35 H404.4" stroke="#2a2a2a" stroke-width="1.2" fill="none"/>
<path d="M300.4,155.5 H404.4" stroke="#2a2a2a" stroke-width="1.2" fill="none"/>
<rect x="404.4" y="115.6" width="73.6" height="46.7" stroke="#1a1a1a" stroke-width="1.2" fill="none"/>
<text transform="translate(403.99 111.70) rotate(0.03) scale(0.9477 1)" font-family='"Liberation Sans", "Noto Sans CJK SC", sans-serif' font-size="14.24" fill="#000"  xml:space="preserve">SJD210-10A</text>
<text transform="translate(424.43 140.85) rotate(0.03) scale(0.9334 1)" font-family='"Liberation Sans", "Noto Sans CJK SC", sans-serif' font-size="13.95" fill="#000"  xml:space="preserve">NF2</text>
<text transform="translate(413.20 147.00) rotate(-89.97) translate(-0.53 0) scale(0.9028 1)" font-family='"Liberation Sans", "Noto Sans CJK SC", sans-serif' font-size="8.72" fill="#000" font-weight="bold" style="stroke:none" xml:space="preserve">LINE</text>
<text transform="translate(474.00 147.00) rotate(-89.97) translate(-0.53 0) scale(0.9050 1)" font-family='"Liberation Sans", "Noto Sans CJK SC", sans-serif' font-size="8.72" fill="#000" font-weight="bold" style="stroke:none" xml:space="preserve">LOND</text>
<text transform="translate(416.56 179.00) rotate(0.03) scale(0.9856 1)" font-family='"Liberation Sans", "Noto Sans CJK SC", sans-serif' font-size="14.10" fill="#000"  xml:space="preserve">PE</text>
<path d="M478,124.3 H614.6" stroke="#2a2a2a" stroke-width="1.2" fill="none"/>
<path d="M478,155.6 H614.6" stroke="#2a2a2a" stroke-width="1.2" fill="none"/>
<text transform="translate(576.37 117.00) rotate(0.03) scale(0.9849 1)" font-family='"Liberation Sans", "Noto Sans CJK SC", sans-serif' font-size="13.95" fill="#000"  xml:space="preserve">L15</text>
<text transform="translate(570.91 168.60) rotate(0.03) scale(0.9524 1)" font-family='"Liberation Sans", "Noto Sans CJK SC", sans-serif' font-size="13.95" fill="#000"  xml:space="preserve">N15</text>
<rect x="651.7" y="94.5" width="240.6" height="99.0" stroke="#000" stroke-width="2.6" fill="none" stroke-linejoin="miter"/>
<path d="M651.7,117.5 H614.6 V129.5 H651.7" stroke="#000" stroke-width="2.6" fill="none" stroke-linejoin="miter"/>
<path d="M651.7,148.5 H614.6 V160.7 H651.7" stroke="#000" stroke-width="2.6" fill="none" stroke-linejoin="miter"/>
<path d="M753.4,94.5 V78.7 H831.2 V94.5" stroke="#000" stroke-width="2.6" fill="none" stroke-linejoin="miter"/>
<path d="M892.3,105.2 H905.3 V130.4 H892.3" stroke="#000" stroke-width="2.6" fill="none" stroke-linejoin="miter"/>
<path d="M892.3,157.1 H905.3 V182.3 H892.3" stroke="#000" stroke-width="2.6" fill="none" stroke-linejoin="miter"/>
<path d="M846.7,94.5 V101 M874.7,94.5 V101 M846.7,187 V193.5 M874.7,187 V193.5" stroke="#2a2a2a" stroke-width="1.2" fill="none"/>
<rect x="843" y="100" width="36" height="11" rx="4" ry="4" fill="#000"/>
<rect x="843" y="177.1" width="36" height="10.9" rx="4" ry="4" fill="#000"/>
<path d="M688.0,52.9 V94" stroke="#2a2a2a" stroke-width="1.2" fill="none"/>
<path d="M682.8,45.3 L688.0,52.9 L693.2,45.3" stroke="#2a2a2a" stroke-width="1.2" fill="none"/>
<path d="M710.7,52.9 V94" stroke="#2a2a2a" stroke-width="1.2" fill="none"/>
<path d="M705.5,45.3 L710.7,52.9 L715.9000000000001,45.3" stroke="#2a2a2a" stroke-width="1.2" fill="none"/>
<text transform="translate(682.10 0.00) rotate(90.03) translate(0.92 0) scale(0.9264 1)" font-family='"Liberation Sans", "Noto Sans CJK SC", sans-serif' font-size="14.24" fill="#000"  xml:space="preserve">DC24V</text>
<text transform="translate(704.80 0.00) rotate(90.03) translate(0.91 0) scale(0.9302 1)" font-family='"Liberation Sans", "Noto Sans CJK SC", sans-serif' font-size="14.24" fill="#000"  xml:space="preserve">DC0V</text>
<path d="M777.7,52.8 V78.5" stroke="#2a2a2a" stroke-width="1.2" fill="none"/>
<path d="M773.4000000000001,64.6 L777.7,52.5 L782.0,64.6" stroke="#2a2a2a" stroke-width="1.2" fill="none" stroke-linejoin="bevel"/>
<path d="M787.4,52.8 V78.5" stroke="#2a2a2a" stroke-width="1.2" fill="none"/>
<path d="M783.1,64.6 L787.4,52.5 L791.6999999999999,64.6" stroke="#2a2a2a" stroke-width="1.2" fill="none" stroke-linejoin="bevel"/>
<path d="M796.8,52.8 V78.5" stroke="#2a2a2a" stroke-width="1.2" fill="none"/>
<path d="M792.5,64.6 L796.8,52.5 L801.0999999999999,64.6" stroke="#2a2a2a" stroke-width="1.2" fill="none" stroke-linejoin="bevel"/>
<path d="M806.5,52.8 V78.5" stroke="#2a2a2a" stroke-width="1.2" fill="none"/>
<path d="M802.2,64.6 L806.5,52.5 L810.8,64.6" stroke="#2a2a2a" stroke-width="1.2" fill="none" stroke-linejoin="bevel"/>
<text transform="translate(765.0 43.8) rotate(0.03)" font-size="12.6" fill="#000"><tspan font-family='"Liberation Serif", "Noto Serif CJK SC", serif' font-weight="500" textLength="26.4" lengthAdjust="spacingAndGlyphs" style="stroke:none">控制</tspan><tspan font-family='"Liberation Sans", "Noto Sans CJK SC", sans-serif' font-size="13.6">I/O</tspan></text>
<path d="M860.7,24.5 V94" stroke="#2a2a2a" stroke-width="1.2" fill="none"/>
<path d="M855.3,17.6 L860.7,24.5 L866,17.6" stroke="#2a2a2a" stroke-width="1.2" fill="none"/>
<text transform="translate(837.29 14.90) rotate(0.03) scale(0.9614 1)" font-family='"Liberation Sans", "Noto Sans CJK SC", sans-serif' font-size="14.10" fill="#000"  xml:space="preserve">Profinet</text>
<text transform="translate(674.09 107.90) rotate(0.03) scale(0.9405 1)" font-family='"Liberation Sans", "Noto Sans CJK SC", sans-serif' font-size="11.05" fill="#000" style="stroke-width:0.06px" xml:space="preserve">+24V</text>
<text transform="translate(704.72 107.90) rotate(0.03) scale(1.0826 1)" font-family='"Liberation Sans", "Noto Sans CJK SC", sans-serif' font-size="11.05" fill="#000" style="stroke-width:0.06px" xml:space="preserve">M</text>
<text transform="translate(786.24 107.90) rotate(0.03) scale(1.0404 1)" font-family='"Liberation Sans", "Noto Sans CJK SC", sans-serif' font-size="11.05" fill="#000" style="stroke-width:0.06px" xml:space="preserve">X8</text>
<text transform="translate(657.39 127.90) rotate(0.03) scale(0.8947 1)" font-family='"Liberation Sans", "Noto Sans CJK SC", sans-serif' font-size="11.05" fill="#000" style="stroke-width:0.06px" xml:space="preserve">L1</text>
<text transform="translate(657.34 158.50) rotate(0.03) scale(0.9453 1)" font-family='"Liberation Sans", "Noto Sans CJK SC", sans-serif' font-size="11.05" fill="#000" style="stroke-width:0.06px" xml:space="preserve">L3</text>
<text transform="translate(853.65 121.90) rotate(0.03) scale(1.0352 1)" font-family='"Liberation Sans", "Noto Sans CJK SC", sans-serif' font-size="11.19" fill="#000" style="stroke-width:0.06px" xml:space="preserve">PN</text>
<text transform="translate(854.02 165.80) rotate(0.03) scale(1.1001 1)" font-family='"Liberation Sans", "Noto Sans CJK SC", sans-serif' font-size="11.19" fill="#000" style="stroke-width:0.06px" xml:space="preserve">X9</text>
<text transform="translate(698.61 149.00) rotate(0.03) scale(0.9276 1)" font-family='"Liberation Sans", "Noto Sans CJK SC", sans-serif' font-size="16.86" fill="#000"  xml:space="preserve">6SL3210-5FB10-4UF1</text>
<path d="M690.6,193.5 V209.7" stroke="#000" stroke-width="2.6" fill="none" stroke-linejoin="miter"/>
<path d="M690.6,209.7 V237" stroke="#2a2a2a" stroke-width="1.2" fill="none"/>
<circle cx="690.6" cy="239.1" r="8.2" stroke="#1a1a1a" stroke-width="1.1" fill="none"/>
<path d="M684.3,236.9 H696.9 M686.6,239.5 H694.6 M689,241.8 H692.2" stroke="#1a1a1a" stroke-width="1" fill="none"/>
<text transform="translate(692.47 209.00) rotate(0.03) scale(1.0090 1)" font-family='"Liberation Sans", "Noto Sans CJK SC", sans-serif' font-size="17.30" fill="#000"  xml:space="preserve">PE</text>
<path d="M905.4,118.2 H1073.4" stroke="#2a2a2a" stroke-width="1.2" fill="none"/>
<path d="M905.4,169.6 H1108.3 V155.5" stroke="#2a2a2a" stroke-width="1.2" fill="none"/>
<circle cx="1108.4" cy="117.9" r="35.3" stroke="#1a1a1a" stroke-width="1.15" fill="none"/>
<rect x="1102.8" y="153.1" width="11.0" height="2.4" stroke="#1a1a1a" stroke-width="1" fill="#fff"/>
<text transform="translate(1093.5 115.8) rotate(0.03)" font-family='"Liberation Serif", "Noto Serif CJK SC", serif' font-size="26.5" fill="#000" style="stroke:none"><tspan textLength="11.7" lengthAdjust="spacingAndGlyphs">S</tspan><tspan dx="1.7" textLength="12.9" lengthAdjust="spacingAndGlyphs">M</tspan></text>
<path d="M1092.3,133.8 C1095.5,129.5 1098.5,127.8 1102,127.8 C1106.5,127.8 1109.5,132.8 1114.6,132.8 C1119.5,132.8 1124,130.5 1126.8,127.1" stroke="#2a2a2a" stroke-width="1.2" fill="none"/>
<text transform="translate(1051.81 205.80) rotate(0.03) scale(0.9767 1)" font-family='"Liberation Sans", "Noto Sans CJK SC", sans-serif' font-size="15.99" fill="#000"  xml:space="preserve">1FL6034-2AF21-1AA1</text>
</g>
</svg>
</body>
</html>
